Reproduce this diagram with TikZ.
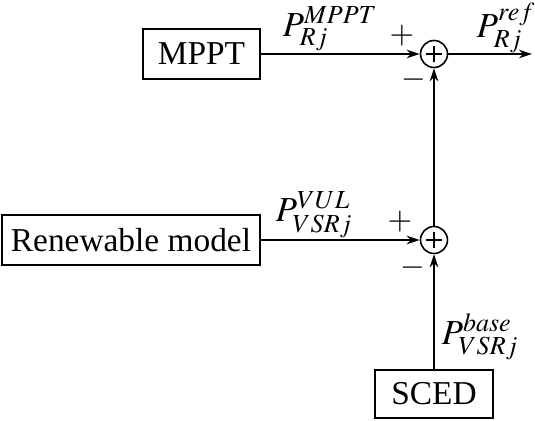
\documentclass[tikz,border=0pt]{standalone}
\usepackage{mathptmx}
\usepackage[no-math]{fontspec}
\setmainfont{Liberation Serif}
\usepackage{tikz}
\usetikzlibrary{calc,positioning,arrows.meta}
\tikzset{
block/.style={draw, line width=0.9pt, minimum height=1cm, inner sep=0pt, font=\fontsize{19}{22}\selectfont}, % rectangular boxes
sumnode/.style={draw, circle, line width=0.9pt, minimum size=0.54cm, inner sep=0pt}, % summing junctions
sig/.style={inner sep=1pt, font=\fontsize{20}{22}\selectfont}, % signal labels
sgn/.style={inner sep=1pt, font=\fontsize{18}{20}\selectfont}, % + and - signs
}
\begin{document}
\begin{tikzpicture}[x=0.02cm, y=0.02cm, line width=0.8pt, >={Stealth[length=0.26cm,width=0.17cm]}]
        \useasboundingbox (0,0) rectangle (535,421);
        \node[block, minimum width=2.34cm] (mppt) at (201.5,367) {MPPT};
        \node[sumnode] (sum_1) at (434,367) {};
        \node[sumnode] (sum_2) at (434,181) {};
        \node[block, minimum width=5.16cm] (renew) at (131,181) {Renewable model};
        \node[block, minimum width=2.36cm, minimum height=0.96cm] (sced) at (434,27) {SCED};
        \coordinate (out) at (532,367);
        % plus signs drawn inside the junctions
        \foreach \s in {sum_1,sum_2} {
            \draw[line width=0.6pt] ($(\s)+(-8,0)$) -- ($(\s)+(8,0)$);
            \draw[line width=0.6pt] ($(\s)+(0,-8)$) -- ($(\s)+(0,8)$);
        }
        \draw[->] (mppt) -- (sum_1);
        \draw[->] (sum_1) -- (out);
        \draw[->] (renew) -- (sum_2);
        \draw[->] (sum_2) -- (sum_1);
        \draw[->] (sced) -- (sum_2);
        % labels
        \node[sig] (l_mppt) at (330,392) {$P_{Rj}^{MPPT}$};
        \node[sig] (l_ref) at (506,393) {$P_{Rj}^{ref}$};
        \node[sig] (l_vul) at (314,206) {$P_{VSRj}^{VUL}$};
        \node[sig] (l_base) at (480,84) {$P_{VSRj}^{base}$};
        \node[sgn] (p_1) at (402,385) {$+$};
        \node[sgn] (m_1) at (414,341) {$-$};
        \node[sgn] (p_2) at (400,199) {$+$};
        \node[sgn] (m_2) at (413,153) {$-$};
\end{tikzpicture}
\end{document}
